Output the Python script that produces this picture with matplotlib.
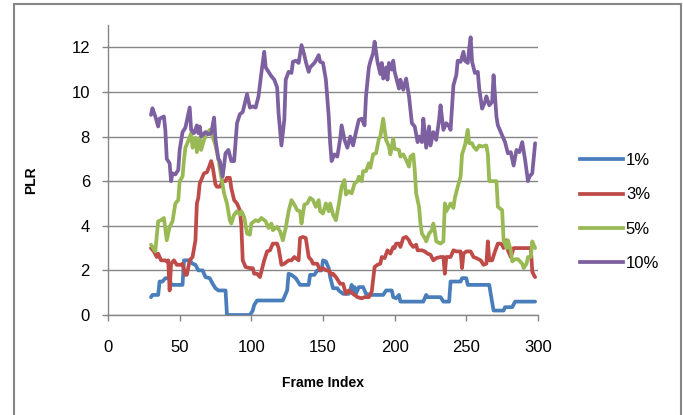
import matplotlib
matplotlib.use("Agg")
import matplotlib.pyplot as plt
from matplotlib.patches import Rectangle
from matplotlib.lines import Line2D

# ---- data ----
series_labels = ["1%", "3%", "5%", "10%"]
series_colors = ["#4A7EBB", "#BE4B48", "#98B954", "#7D60A0"]

frames_1 = [30, 31, 35, 36, 38, 40, 43, 44, 52, 53, 57, 59, 61, 63, 66, 68, 71, 73, 75, 77, 82, 83,
            99, 101, 102, 104, 122, 123, 125, 126, 128, 131, 134, 140, 141, 144, 146, 149, 150, 152,
            154, 155, 157, 160, 161, 164, 168, 169, 170, 171, 172, 173, 175, 178, 180, 183, 192, 194,
            198, 199, 201, 203, 204, 220, 222, 223, 232, 234, 238, 239, 246, 247, 250, 251, 266, 267,
            269, 276, 277, 282, 284, 298]
plr_1 = [0.8, 0.9, 0.9, 1.5, 1.5, 1.65, 1.65, 1.35, 1.35, 2.45, 2.45, 2.3, 2.25, 2.0, 2.0, 1.7, 1.65,
         1.4, 1.2, 1.1, 1.1, 0.0, 0.0, 0.2, 0.45, 0.65, 0.65, 0.8, 1.1, 1.85, 1.8, 1.65, 1.35, 1.35,
         1.8, 1.8, 2.0, 2.0, 2.45, 2.4, 2.1, 1.7, 1.2, 1.2, 1.1, 0.95, 0.95, 1.1, 1.35, 0.95, 1.25,
         0.95, 1.25, 1.25, 0.95, 0.9, 0.9, 1.1, 1.1, 0.8, 0.75, 0.9, 0.6, 0.6, 0.9, 0.8, 0.8, 0.6, 0.6,
         1.5, 1.5, 1.65, 1.65, 1.35, 1.35, 0.95, 0.2, 0.2, 0.35, 0.35, 0.6, 0.6]

frames_3 = [30, 32, 34, 35, 37, 40, 41, 42, 43, 44, 46, 48, 51, 52, 54, 55, 57, 59, 61, 62, 63, 64,
            67, 69, 70, 72, 73, 75, 76, 78, 80, 82, 83, 85, 86, 88, 90, 92, 93, 94, 96, 99, 101, 102,
            104, 106, 109, 111, 113, 115, 118, 119, 121, 123, 126, 128, 130, 133, 134, 136, 138, 140,
            142, 143, 146, 148, 150, 152, 154, 156, 157, 159, 162, 164, 166, 168, 171, 172, 174, 177,
            179, 182, 184, 186, 188, 190, 191, 193, 195, 197, 199, 200, 201, 203, 204, 206, 208, 210,
            211, 213, 215, 216, 219, 221, 223, 225, 227, 229, 232, 234, 235, 236, 239, 241, 243, 246,
            247, 248, 250, 253, 255, 257, 260, 262, 264, 265, 266, 268, 270, 272, 274, 275, 276, 278,
            279, 281, 283, 295, 296, 297, 298]
plr_3 = [3.0, 2.85, 2.6, 2.75, 2.45, 2.45, 2.4, 2.45, 1.1, 2.3, 2.45, 2.25, 2.25, 2.3, 1.8, 1.8, 2.45,
         2.6, 3.35, 5.0, 5.25, 5.9, 6.35, 6.4, 6.55, 6.9, 6.65, 5.85, 5.75, 5.75, 6.0, 6.0, 6.15, 6.15,
         5.7, 5.15, 5.0, 4.7, 4.05, 2.45, 2.15, 2.1, 2.1, 1.85, 1.85, 1.7, 2.45, 2.85, 2.9, 3.2, 3.2,
         3.0, 2.25, 2.3, 2.45, 2.45, 2.6, 2.45, 3.45, 3.5, 3.45, 2.6, 2.45, 2.3, 2.3, 2.0, 2.1, 2.0,
         2.0, 1.8, 1.85, 1.7, 1.4, 1.4, 0.95, 1.1, 0.95, 0.9, 0.8, 0.75, 0.8, 0.8, 1.05, 2.15, 2.25,
         2.3, 2.6, 2.55, 2.9, 2.75, 3.05, 3.0, 3.2, 3.2, 3.05, 3.45, 3.5, 3.35, 3.2, 3.05, 3.15, 2.9,
         2.9, 2.85, 2.75, 2.7, 2.45, 2.55, 2.6, 2.6, 1.85, 2.6, 2.6, 2.9, 2.85, 2.85, 2.1, 2.75, 2.85,
         2.85, 2.6, 2.55, 2.45, 2.25, 2.3, 3.3, 2.45, 2.45, 2.85, 3.2, 3.2, 3.15, 3.0, 3.35, 2.9, 2.6,
         3.0, 3.0, 1.95, 1.8, 1.7]

frames_5 = [30, 31, 33, 35, 37, 39, 41, 43, 45, 47, 49, 50, 52, 53, 54, 56, 58, 59, 61, 62, 64, 65,
            67, 69, 71, 73, 75, 77, 79, 81, 83, 85, 86, 88, 90, 92, 93, 95, 97, 99, 100, 103, 105, 107,
            110, 112, 114, 115, 118, 120, 122, 124, 126, 128, 130, 132, 134, 135, 137, 139, 141, 143,
            145, 147, 148, 150, 152, 154, 155, 157, 159, 161, 163, 165, 166, 168, 170, 172, 174, 175,
            177, 178, 180, 182, 183, 185, 187, 189, 190, 192, 194, 196, 197, 199, 200, 203, 204, 206,
            208, 210, 211, 213, 214, 215, 217, 218, 219, 221, 222, 224, 226, 227, 228, 229, 232, 234,
            235, 236, 239, 241, 242, 244, 246, 247, 249, 251, 252, 254, 255, 257, 259, 261, 264, 265,
            266, 271, 272, 275, 276, 278, 279, 281, 282, 284, 286, 289, 290, 292, 293, 295, 296, 298]
plr_5 = [3.15, 3.05, 2.85, 4.2, 4.25, 4.35, 3.35, 3.95, 4.2, 5.0, 5.15, 6.0, 6.2, 6.95, 7.5, 7.8, 8.15,
         7.5, 7.95, 7.3, 7.95, 7.4, 7.85, 8.15, 8.3, 8.0, 7.6, 7.0, 6.2, 5.45, 5.0, 4.25, 4.1, 4.5,
         4.65, 4.5, 4.65, 4.4, 3.65, 3.6, 4.1, 4.25, 4.2, 4.35, 4.2, 3.9, 4.1, 3.8, 3.95, 3.75, 3.35,
         3.9, 4.65, 5.15, 4.95, 4.7, 4.65, 4.1, 4.95, 5.0, 5.25, 5.15, 4.85, 5.15, 4.65, 4.55, 5.0,
         4.65, 5.0, 4.5, 4.25, 4.95, 5.75, 6.05, 5.4, 5.55, 5.45, 5.9, 6.0, 6.2, 6.0, 6.45, 6.45, 6.8,
         6.6, 7.2, 7.25, 7.9, 8.0, 8.8, 7.85, 7.55, 7.2, 7.9, 7.45, 7.4, 7.1, 7.2, 6.95, 6.65, 7.1,
         7.2, 6.5, 5.45, 4.85, 4.1, 3.65, 3.45, 3.3, 3.65, 3.8, 4.1, 3.75, 3.3, 3.2, 3.3, 5.0, 4.65,
         5.0, 4.8, 5.25, 5.75, 6.2, 7.2, 7.6, 8.3, 7.7, 7.7, 7.55, 7.4, 7.6, 7.55, 7.6, 7.2, 6.0, 6.0,
         4.85, 4.7, 3.35, 3.0, 3.35, 2.9, 2.4, 2.5, 2.5, 2.3, 2.1, 2.3, 2.6, 2.6, 3.3, 3.0]

frames_10 = [30, 31, 33, 35, 36, 39, 40, 41, 43, 44, 45, 47, 49, 50, 52, 54, 55, 57, 58, 60, 62, 63,
             64, 65, 68, 70, 72, 74, 75, 77, 78, 80, 82, 84, 86, 88, 90, 92, 94, 97, 99, 101, 103, 105,
             107, 109, 110, 112, 114, 116, 118, 119, 121, 123, 124, 126, 128, 129, 131, 133, 135, 137,
             138, 140, 141, 144, 145, 147, 148, 150, 152, 154, 155, 156, 158, 160, 162, 163, 165, 167,
             169, 171, 173, 175, 177, 179, 180, 182, 183, 185, 186, 188, 190, 191, 192, 194, 195, 196,
             198, 199, 200, 203, 204, 206, 208, 210, 212, 214, 216, 217, 219, 220, 222, 224, 225, 227,
             229, 231, 232, 234, 236, 238, 239, 241, 243, 244, 246, 248, 249, 251, 252, 253, 254, 256,
             258, 259, 261, 263, 264, 266, 268, 269, 271, 272, 275, 277, 279, 281, 283, 285, 287, 289,
             291, 293, 294, 296, 298]
plr_10 = [8.97, 9.27, 8.9, 8.45, 8.8, 8.9, 8.3, 7.0, 6.8, 6.0, 6.35, 6.3, 6.5, 7.4, 8.2, 8.4, 8.7, 9.3,
          8.3, 8.15, 8.5, 8.15, 8.45, 8.0, 8.2, 8.1, 8.15, 8.85, 7.85, 7.0, 6.9, 6.2, 7.25, 7.4, 6.9,
          6.9, 8.6, 9.0, 9.1, 9.9, 9.3, 9.35, 9.3, 9.8, 10.85, 11.8, 11.1, 10.9, 10.7, 10.55, 10.2,
          9.05, 7.6, 8.75, 10.55, 10.9, 10.85, 11.35, 11.4, 11.3, 12.1, 11.65, 11.35, 10.9, 11.1, 11.3,
          11.4, 11.65, 11.35, 11.3, 10.55, 8.9, 7.7, 6.9, 7.2, 7.1, 7.9, 8.5, 7.85, 7.5, 8.0, 7.6, 8.2,
          8.75, 8.8, 8.5, 9.8, 11.1, 11.35, 11.75, 12.25, 11.35, 10.8, 11.3, 10.6, 11.1, 10.55, 11.3,
          11.0, 11.4, 10.9, 10.15, 10.55, 10.1, 10.6, 9.8, 8.6, 8.45, 7.75, 8.0, 7.75, 8.8, 7.5, 8.45,
          7.6, 8.2, 7.85, 8.75, 9.4, 8.3, 8.6, 8.45, 8.3, 10.3, 10.75, 11.4, 11.35, 11.8, 11.4, 11.3,
          11.95, 12.45, 11.35, 10.85, 10.9, 10.15, 9.25, 9.55, 9.8, 9.4, 9.55, 10.75, 8.9, 8.5, 8.05,
          7.75, 7.25, 7.3, 6.7, 7.4, 7.3, 7.75, 6.95, 6.0, 6.2, 6.35, 7.7]

x_ticks = [0, 50, 100, 150, 200, 250, 300]
y_ticks = [0, 2, 4, 6, 8, 10, 12]
x_title = "Frame Index"
y_title = "PLR"

# ---- drawing ----
W, H = 683, 415
fig = plt.figure(figsize=(W / 100, H / 100), dpi=100)
fig.patch.set_facecolor("white")
ax = fig.add_axes([108 / W, 1 - 315 / H, 430 / W, 290 / H])

grey = "#868686"
font = "Liberation Sans"

all_frames = [frames_1, frames_3, frames_5, frames_10]
all_vals = [plr_1, plr_3, plr_5, plr_10]
for fr, vals, col, lab in zip(all_frames, all_vals, series_colors, series_labels):
    ax.plot(fr, vals, color=col, lw=2.7, solid_joinstyle="round", solid_capstyle="round",
            label=lab, zorder=3)

ax.set_xlim(0, 300)
ax.set_ylim(0, 13)
ax.set_xticks(x_ticks)
ax.set_yticks(y_ticks)
ax.set_xticklabels([str(t) for t in x_ticks], fontfamily=font, fontsize=12)
ax.set_yticklabels([str(t) for t in y_ticks], fontfamily=font, fontsize=12)
ax.tick_params(axis="x", direction="out", length=4, width=1, color=grey, pad=14)
ax.tick_params(axis="y", direction="out", length=4, width=1, color=grey, pad=9)
ax.yaxis.grid(True, color=grey, lw=1)
ax.set_axisbelow(True)
for s in ["top", "right"]:
    ax.spines[s].set_visible(False)
for s in ["left", "bottom"]:
    ax.spines[s].set_color(grey)
    ax.spines[s].set_linewidth(1)

fig.text(323 / W, 1 - 383 / H, x_title, fontfamily=font, fontweight="bold", fontsize=10,
         ha="center", va="center")
fig.text(31 / W, 1 - 180 / H, y_title, fontfamily=font, fontweight="bold", fontsize=10,
         ha="center", va="center", rotation=90)

handles = [Line2D([], [], color=c, lw=2.7) for c in series_colors]
ax.legend(handles, series_labels, loc="center left", bbox_to_anchor=(580 / W, 1 - 212 / H),
          bbox_transform=fig.transFigure, frameon=False, handlelength=2.6, handletextpad=0.15,
          labelspacing=1.15, borderpad=0, borderaxespad=0,
          prop={"family": font, "size": 12})

fig.add_artist(Rectangle((14 / W, -0.05), (681 - 14) / W, 1.05 - 4 / H, transform=fig.transFigure,
                         fill=False, edgecolor=grey, lw=1.5))

fig.savefig("out.png", dpi=100)
